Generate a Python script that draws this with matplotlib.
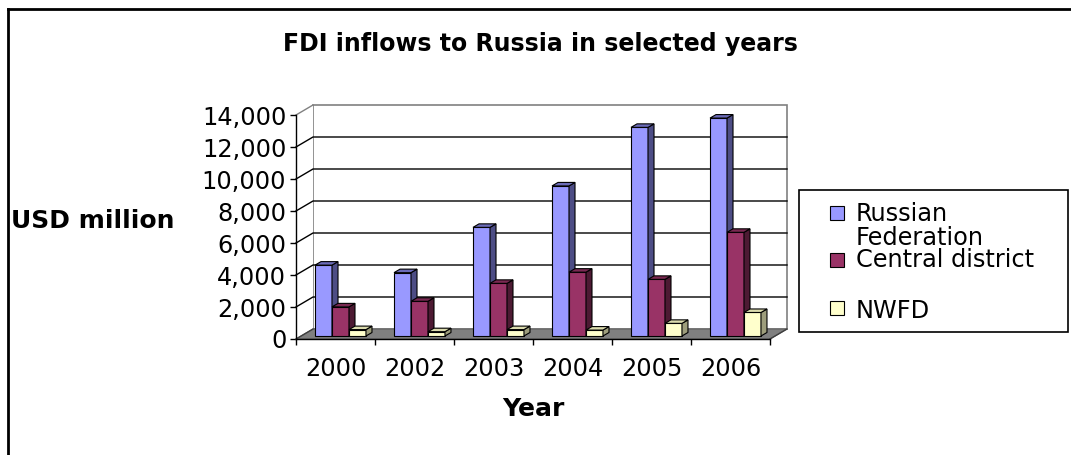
import matplotlib.pyplot as plt
import numpy as np
from matplotlib.patches import Rectangle, Polygon
from matplotlib.ticker import FuncFormatter

# FDI inflows, USD million
years = ['2000', '2002', '2003', '2004', '2005', '2006']
russian_federation = [4430, 3960, 6790, 9380, 13040, 13620]
central_district = [1820, 2170, 3290, 3990, 3540, 6480]
nwfd = [400, 270, 400, 370, 790, 1470]

series_names = ['Russian\nFederation', 'Central district', 'NWFD']
series_values = [russian_federation, central_district, nwfd]
front_colors = ['#9999FF', '#993366', '#FFFFCC']
side_colors = ['#4D4D85', '#4D1A33', '#9E9E7C']
top_colors = ['#6B6BB8', '#7A2952', '#DCDCAE']

W, H = 1071, 455
fig = plt.figure(figsize=(W / 100, H / 100), dpi=100)
plt.rcParams['font.family'] = 'DejaVu Sans'

# front plane of the 3-D box, in pixels
x0, x1, y0, y1 = 296, 770, 339, 115
ax = fig.add_axes([x0 / W, 1 - y0 / H, (x1 - x0) / W, (y0 - y1) / H])
ax.set_xlim(0, len(years))
ax.set_ylim(0, 14000)
ax.set_facecolor('none')
for s in ['top', 'right']:
    ax.spines[s].set_visible(False)
for s in ['left', 'bottom']:
    ax.spines[s].set_linewidth(1.0)
    ax.spines[s].set_zorder(6)

# convert a pixel offset (right, up) into data units
px_x = len(years) / (x1 - x0)
px_y = 14000 / (y0 - y1)
def depth(dx, dy):
    return dx * px_x, dy * px_y

wx, wy = depth(17, 10)      # wall depth
bx, by = depth(5, 3)        # where bar fronts sit
ddx, ddy = depth(6, 3.5)    # bar depth

ymax = 14000
n = len(years)
kw = dict(clip_on=False)

# back wall, side wall and floor
ax.add_patch(Polygon([(wx, wy), (n + wx, wy), (n + wx, ymax + wy), (wx, ymax + wy)],
                     facecolor='white', edgecolor='#808080', lw=1.2, zorder=0, **kw))
ax.add_patch(Polygon([(0, 0), (wx, wy), (wx, ymax + wy), (0, ymax)],
                     facecolor='white', edgecolor='none', zorder=0, **kw))
ax.add_patch(Polygon([(0, 0), (n, 0), (n + wx, wy), (wx, wy)],
                     facecolor='#808080', edgecolor='#606060', lw=0.8, zorder=1, **kw))

ticks = np.arange(0, 14001, 2000)
for v in ticks[1:-1]:
    ax.plot([0, wx, n + wx], [v, v + wy, v + wy], color='#000000', lw=1.0, zorder=0.5, **kw)
ax.plot([0, wx], [ymax, ymax + wy], color='#808080', lw=1.0, zorder=0.5, **kw)
ax.plot([0, wx], [0, wy], color='#404040', lw=1.0, zorder=6, **kw)
ax.plot([n, n + wx], [0, wy], color='#404040', lw=1.0, zorder=6, **kw)

# clustered 3-D columns
bw = 0.215
start = (1 - bw * len(series_values)) / 2
z = 2
for c in range(n):
    for i, vals in enumerate(series_values):
        v = vals[c]
        xl = c + start + i * bw + bx
        xr = xl + bw
        base = by
        top = by + v
        edge = dict(edgecolor='black', lw=0.8, zorder=z, **kw)
        ax.add_patch(Polygon([(xl, base), (xr, base), (xr, top), (xl, top)],
                             facecolor=front_colors[i], **edge))
        ax.add_patch(Polygon([(xr, base), (xr + ddx, base + ddy), (xr + ddx, top + ddy), (xr, top)],
                             facecolor=side_colors[i], **edge))
        ax.add_patch(Polygon([(xl, top), (xl + ddx, top + ddy), (xr + ddx, top + ddy), (xr, top)],
                             facecolor=top_colors[i], **edge))
        z += 0.01

# axes ticks and labels
ax.set_yticks(ticks)
ax.yaxis.set_major_formatter(FuncFormatter(lambda v, p: f'{int(v):,}'))
ax.tick_params(axis='y', direction='out', length=4, width=1, pad=3, labelsize=17.3)
ax.set_xticks(np.arange(0, n + 1))
ax.set_xticklabels([])
ax.set_xticks(np.arange(n) + 0.5, minor=True)
ax.set_xticklabels(years, minor=True, fontsize=17.3)
ax.tick_params(axis='x', which='major', direction='out', length=4, width=1)
ax.tick_params(axis='x', which='minor', length=0, pad=13)

fig.text(540 / W, 1 - 44 / H, 'FDI inflows to Russia in selected years',
         ha='center', va='center', fontsize=17, fontweight='bold')
fig.text(93 / W, 1 - 221 / H, 'USD million', ha='center', va='center',
         fontsize=18, fontweight='bold')
fig.text(533 / W, 1 - 409 / H, 'Year', ha='center', va='center',
         fontsize=18, fontweight='bold')

# legend box
fig.patches.append(Rectangle((799 / W, 1 - 332 / H), (1068 - 799) / W, (332 - 190) / H,
                             transform=fig.transFigure, facecolor='white',
                             edgecolor='black', lw=1.2))
legend_y = [213, 260, 308]
text_y = [226, 260, 311]
for i, name in enumerate(series_names):
    fig.patches.append(Rectangle((830 / W, 1 - (legend_y[i] + 7) / H), 14 / W, 14 / H,
                                 transform=fig.transFigure, facecolor=front_colors[i],
                                 edgecolor='black', lw=0.8))
    fig.text(856 / W, 1 - text_y[i] / H, name, ha='left', va='center',
             fontsize=17.3, linespacing=0.95)

# chart frame
fig.add_artist(plt.Line2D([8 / W, 8 / W], [0, 1 - 9 / H], color='black', lw=2,
                          transform=fig.transFigure))
fig.add_artist(plt.Line2D([8 / W, 1], [1 - 9 / H, 1 - 9 / H], color='black', lw=2,
                          transform=fig.transFigure))

fig.savefig('out.png', dpi=100)
